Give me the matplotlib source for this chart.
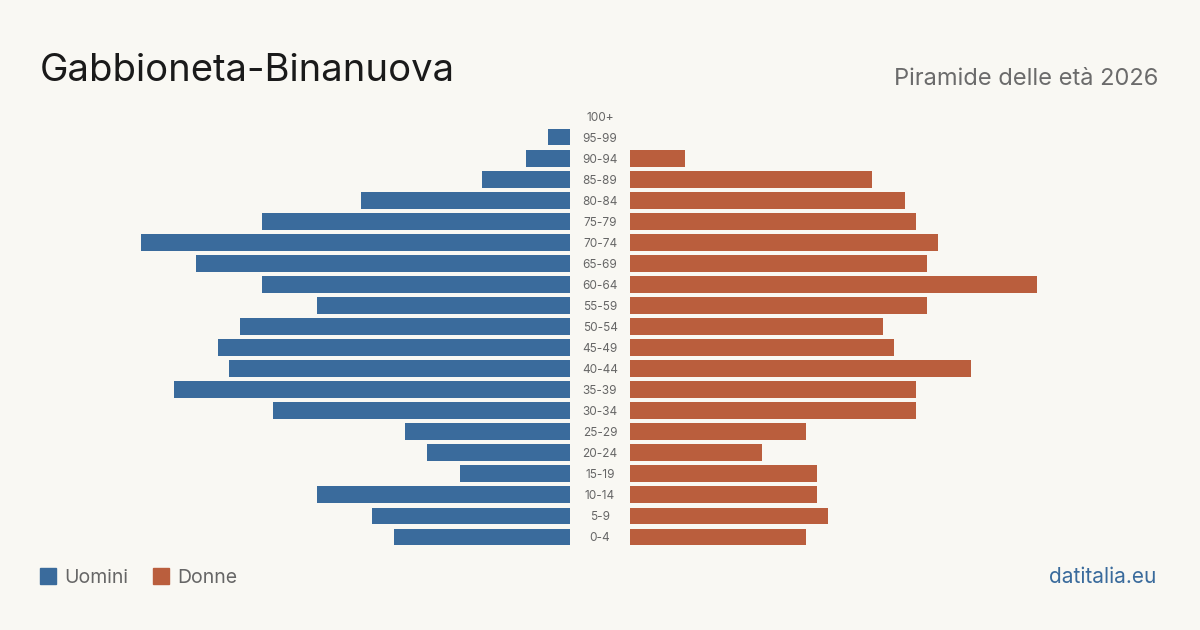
import matplotlib.pyplot as plt
import matplotlib.patches as mpatches

plt.rcParams['font.family'] = ['Inter', 'DejaVu Sans']

# Age classes from youngest to oldest
ages = ['0-4', '5-9', '10-14', '15-19', '20-24', '25-29', '30-34', '35-39',
        '40-44', '45-49', '50-54', '55-59', '60-64', '65-69', '70-74',
        '75-79', '80-84', '85-89', '90-94', '95-99', '100+']
uomini = [16, 18, 23, 10, 13, 15, 27, 36, 31, 32, 30, 23, 28, 34, 39,
          28, 19, 8, 4, 2, 0]
donne = [16, 18, 17, 17, 12, 16, 26, 26, 31, 24, 23, 27, 37, 27, 28,
         26, 25, 22, 5, 0, 0]

bg = '#f9f8f3'
blue = '#3a6b9c'
red = '#ba5e3d'

fig = plt.figure(figsize=(12, 6.3), dpi=100, facecolor=bg)

W, H = 1200, 630
scale = 11.0  # pixels per person
top_px, bot_px = 105.5, 547.5
bottom = 1 - bot_px / H
height = (bot_px - top_px) / H

# left axes: 40..570 px, right axes: 630..1160 px
axl = fig.add_axes([40 / W, bottom, 530 / W, height])
axr = fig.add_axes([630 / W, bottom, 530 / W, height])

y = list(range(len(ages)))
axl.barh(y, uomini, height=0.8, color=blue)
axr.barh(y, donne, height=0.8, color=red)
axl.set_xlim(530 / scale, 0)
axr.set_xlim(0, 530 / scale)
for ax in (axl, axr):
    ax.set_ylim(-0.5, len(ages) - 0.5)
    ax.axis('off')
    ax.set_facecolor('none')

# age labels in the middle gap
for i, a in enumerate(ages):
    fig.text(600 / W, bottom + height * (i + 0.5) / len(ages) - 1.5 / H, a,
             ha='center', va='center', fontsize=8.5, color='#666666')

fig.text(40 / W, 1 - 81 / H, 'Gabbioneta-Binanuova', fontsize=27.5,
         color='#1a1a1a', ha='left', va='baseline')
fig.text(1158 / W, 1 - 85 / H, 'Piramide delle età 2026', fontsize=17,
         color='#6b6b6b', ha='right', va='baseline')

# legend
fig.patches.append(mpatches.Rectangle((40 / W, 1 - 584 / H), 16 / W, 16 / H,
                                      transform=fig.transFigure, color=blue))
fig.text(64 / W, 1 - 583 / H, 'Uomini', fontsize=14, color='#666666',
         ha='left', va='baseline')
fig.patches.append(mpatches.Rectangle((153 / W, 1 - 584 / H), 16 / W, 16 / H,
                                      transform=fig.transFigure, color=red))
fig.text(177 / W, 1 - 583 / H, 'Donne', fontsize=14, color='#666666',
         ha='left', va='baseline')

fig.text(1156 / W, 1 - 583 / H, 'datitalia.eu', fontsize=15, color=blue,
         ha='right', va='baseline')

fig.savefig('out.png', dpi=100, facecolor=bg)
